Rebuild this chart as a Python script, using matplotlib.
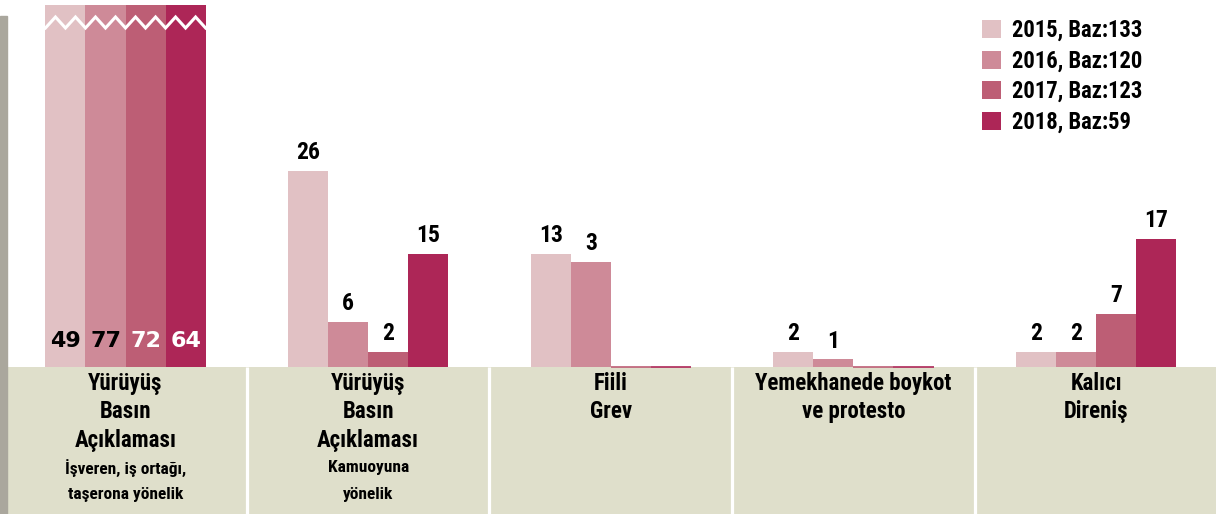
import numpy as np
import matplotlib
matplotlib.use("Agg")
import matplotlib.pyplot as plt
from matplotlib import font_manager
from matplotlib.patches import Patch, Rectangle

# ---------------- data ----------------
cat_main = ["Yürüyüş\nBasın\nAçıklaması", "Yürüyüş\nBasın\nAçıklaması", "Fiili\nGrev",
            "Yemekhanede boykot\nve protesto", "Kalıcı\nDireniş"]
cat_sub = ["İşveren, iş ortağı,\ntaşerona yönelik", "Kamuoyuna\nyönelik", "", "", ""]
years = ["2015, Baz:133", "2016, Baz:120", "2017, Baz:123", "2018, Baz:59"]

# bar heights as drawn in the picture
v2015 = [49, 26, 15, 2, 2]
v2016 = [77, 6, 14, 1, 2]
v2017 = [72, 2, 0, 0, 7]
v2018 = [64, 15, 0, 0, 17]
# printed value labels
l2015 = ["49", "26", "13", "2", "2"]
l2016 = ["77", "6", "3", "1", "2"]
l2017 = ["72", "2", "", "", "7"]
l2018 = ["64", "15", "", "", "17"]
broken_group = 0

colors = ["#e1c1c4", "#ce8a98", "#bd5e75", "#ad2657"]
beige = "#dfdfcb"
gray = "#aaa79d"

# ---------------- fonts ----------------
avail = {f.name for f in font_manager.fontManager.ttflist}
cands = ["Liberation Sans Narrow", "Roboto Condensed", "Open Sans Condensed", "Liberation Sans"]
fam = next((c for c in cands if c in avail), "DejaVu Sans")
plt.rcParams["font.family"] = [fam, "DejaVu Sans"]
plt.rcParams["font.weight"] = "bold"

W, H = 1216, 514
fig = plt.figure(figsize=(W / 100, H / 100), dpi=100)

ppu = 7.53                       # pixels per data unit (vertical)
base_px = 367                    # baseline from top
top_px = 5
ymax = (base_px - top_px) / ppu
ymin = -(H - base_px) / ppu

ax_left = 4.2
ax_right = 1217.4
unit = (ax_right - ax_left) / 5
ax = fig.add_axes([ax_left / W, 0, (ax_right - ax_left) / W, (H - top_px) / H])
ax.set_xlim(-0.5, 4.5)
ax.set_ylim(ymin, ymax)
ax.axis("off")

# left gray strip
fig.patches.append(Rectangle((0, 0), 7 / W, (H - 16) / H, transform=fig.transFigure,
                             color=gray, zorder=0))

# category band
n = len(cat_main)
band_left = -0.5 + (7 - ax_left) / unit
ax.add_patch(Rectangle((band_left, ymin), n - 0.5 - band_left, -ymin, color=beige,
                       zorder=1, lw=0))
for b in np.arange(0.5, n - 0.5, 1.0):
    ax.plot([b, b], [ymin, 0], color="white", lw=2.3, zorder=2, solid_capstyle="butt")

x = np.arange(n)
bw = 0.165
series = [v2015, v2016, v2017, v2018]
labels = [l2015, l2016, l2017, l2018]
for k, (vals, labs) in enumerate(zip(series, labels)):
    xs = x + (k - 1.5) * bw
    lws = [1.2 if v == 0 else 0 for v in vals]
    ax.bar(xs, vals, width=bw, color=colors[k], edgecolor=colors[k], linewidth=lws, zorder=3)
    for i, (xv, v, t) in enumerate(zip(xs, vals, labs)):
        if not t:
            continue
        if i == broken_group:
            ax.annotate(t, (xv, 0), xytext=(0, 18.5), textcoords="offset points",
                        ha="center", va="center", fontsize=16, fontweight="bold",
                        family=["DejaVu Sans"],
                        color="black" if k < 2 else "white", zorder=5)
        else:
            ax.annotate(t, (xv, v), xytext=(0, 5), textcoords="offset points",
                        ha="center", va="bottom", fontsize=17, fontweight="bold",
                        color="black", zorder=5)

# zigzag break marks on the broken group
g0 = broken_group
left = g0 - 2 * bw
right = g0 + 2 * bw
zx = np.linspace(left, right, 17)
zy = np.where(np.arange(17) % 2 == 0, (base_px - 28) / ppu, (base_px - 17) / ppu)
ax.plot(zx, zy, color="white", lw=2.2, zorder=4, solid_joinstyle="miter")

# category labels
main_off = [11.8, 32.3, 52.6]
sub_off = [72.5, 91.5]
for i in range(n):
    for j, line in enumerate(cat_main[i].split("\n")):
        ax.annotate(line, (i, 0), xytext=(0, -main_off[j]), textcoords="offset points",
                    ha="center", va="center", fontsize=16.5, fontweight="bold", zorder=5)
    if cat_sub[i]:
        for j, line in enumerate(cat_sub[i].split("\n")):
            ax.annotate(line, (i, 0), xytext=(0, -sub_off[j]), textcoords="offset points",
                        ha="center", va="center", fontsize=12.5, fontweight="bold", zorder=5)

# legend
handles = [Patch(facecolor=c, edgecolor="none") for c in colors]
leg = fig.legend(handles, years, loc="upper left", bbox_to_anchor=(982 / W, 1 - 19 / H),
                 frameon=False, fontsize=16.3, handlelength=0.84, handleheight=0.84,
                 handletextpad=0.5, labelspacing=0.33, borderpad=0, borderaxespad=0)
for t in leg.get_texts():
    t.set_fontweight("semibold")

fig.savefig("out.png", dpi=100)
